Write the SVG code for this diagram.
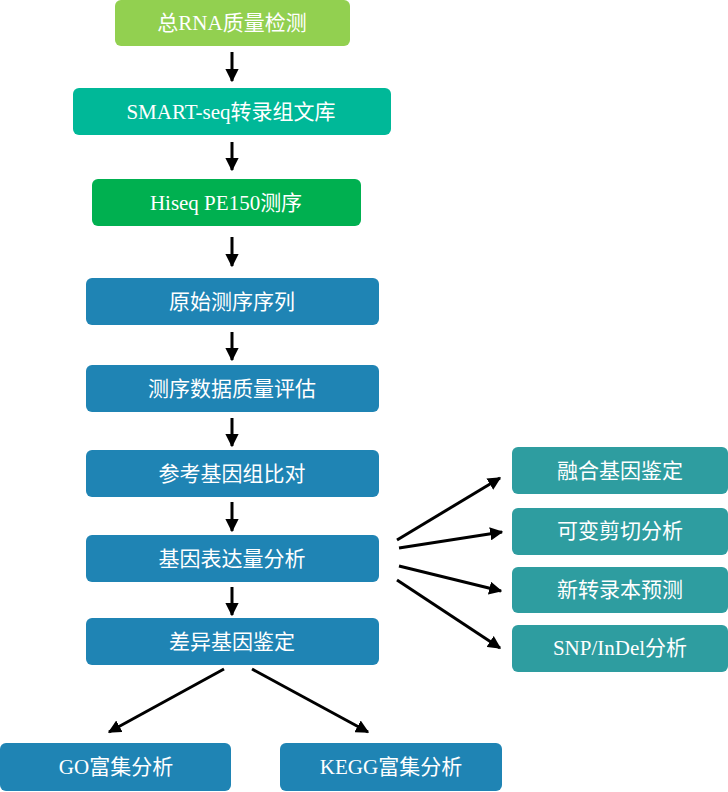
<svg xmlns="http://www.w3.org/2000/svg" width="728" height="792" viewBox="0 0 728 792">
<defs>
<style>
text{font-family:"Liberation Serif","Noto Sans CJK SC",serif;font-size:21px;fill:#fff;text-anchor:middle;dominant-baseline:central}
.b{fill:#1F84B4}
.t{fill:#2E9DA0}
.c line{stroke:#000;stroke-width:3}
</style>
<marker id="a" viewBox="0 0 10 10" refX="9" refY="5" markerWidth="4.4" markerHeight="4.4" markerUnits="strokeWidth" orient="auto">
<path d="M0,0L10,5L0,10z" fill="#000"/>
</marker>
</defs>
<rect width="728" height="792" fill="#fff"/>
<g id="n1"><rect x="115" y="0" width="235" height="46" rx="6" fill="#92D050"/><text x="232" y="23">总RNA质量检测</text></g>
<g id="n2"><rect x="73" y="88" width="318" height="47" rx="6" fill="#00B898"/><text x="231" y="112">SMART-seq转录组文库</text></g>
<g id="n3"><rect x="92" y="179" width="269" height="47" rx="6" fill="#00B050"/><text x="226" y="203">Hiseq PE150测序</text></g>
<g id="n4"><rect class="b" x="86" y="278" width="293" height="47" rx="6"/><text x="232" y="302">原始测序序列</text></g>
<g id="n5"><rect class="b" x="86" y="365" width="293" height="47" rx="6"/><text x="232" y="389">测序数据质量评估</text></g>
<g id="n6"><rect class="b" x="86" y="450" width="293" height="47" rx="6"/><text x="232" y="474">参考基因组比对</text></g>
<g id="n7"><rect class="b" x="86" y="535" width="293" height="47" rx="6"/><text x="232" y="559">基因表达量分析</text></g>
<g id="n8"><rect class="b" x="86" y="618" width="293" height="47" rx="6"/><text x="232" y="642">差异基因鉴定</text></g>
<g id="n9"><rect class="b" x="0" y="743" width="231" height="48" rx="6"/><text x="116" y="767">GO富集分析</text></g>
<g id="n10"><rect class="b" x="280" y="743" width="222" height="48" rx="6"/><text x="391" y="767">KEGG富集分析</text></g>
<g id="n11"><rect class="t" x="512" y="447" width="216" height="47" rx="6"/><text x="620" y="471">融合基因鉴定</text></g>
<g id="n12"><rect class="t" x="512" y="508" width="216" height="47" rx="6"/><text x="620" y="531">可变剪切分析</text></g>
<g id="n13"><rect class="t" x="512" y="567" width="216" height="46" rx="6"/><text x="620" y="590">新转录本预测</text></g>
<g id="n14"><rect class="t" x="512" y="625" width="216" height="47" rx="6"/><text x="620" y="648">SNP/InDel分析</text></g>
<g id="connectors" class="c">
<line x1="232" y1="52" x2="232" y2="81" marker-end="url(#a)"/>
<line x1="232" y1="142" x2="232" y2="170" marker-end="url(#a)"/>
<line x1="232" y1="237" x2="232" y2="266" marker-end="url(#a)"/>
<line x1="232" y1="332" x2="232" y2="360" marker-end="url(#a)"/>
<line x1="232" y1="418" x2="232" y2="446" marker-end="url(#a)"/>
<line x1="232" y1="502" x2="232" y2="531" marker-end="url(#a)"/>
<line x1="232" y1="587" x2="232" y2="615" marker-end="url(#a)"/>
<line x1="397" y1="540" x2="500" y2="478" marker-end="url(#a)"/>
<line x1="399" y1="548" x2="502" y2="532" marker-end="url(#a)"/>
<line x1="399" y1="566" x2="501" y2="591" marker-end="url(#a)"/>
<line x1="397" y1="580" x2="500" y2="648" marker-end="url(#a)"/>
<line x1="224" y1="669" x2="109" y2="732" marker-end="url(#a)"/>
<line x1="252" y1="669" x2="368" y2="732" marker-end="url(#a)"/>
</g>
</svg>
